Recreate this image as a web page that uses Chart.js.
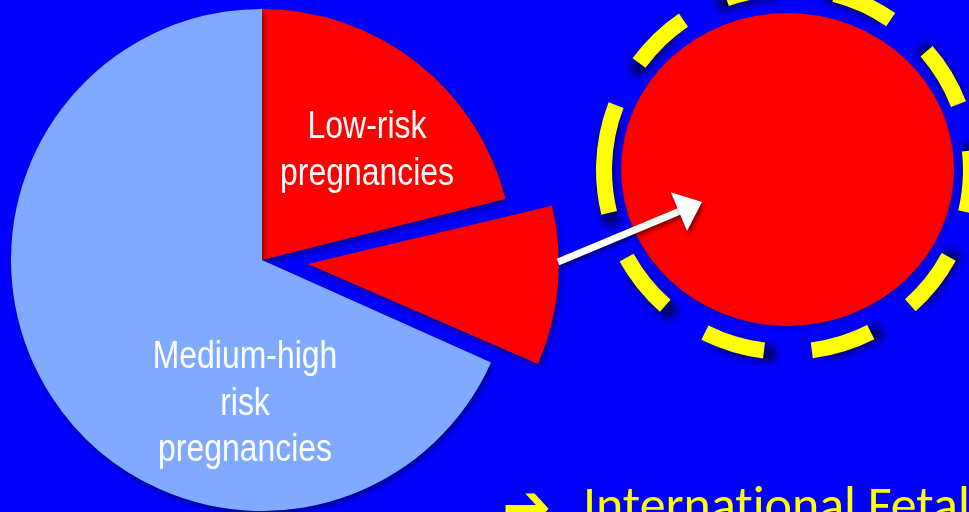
<!DOCTYPE html>
<html>
<head>
<meta charset="utf-8">
<script src="https://cdn.jsdelivr.net/npm/chart.js@4.4.1/dist/chart.umd.min.js"></script>
<style>
  html, body { margin: 0; padding: 0; background: #0000ff; overflow: hidden; }
  #stage { position: relative; width: 969px; height: 512px; overflow: hidden; }
  #zoomBox { position: absolute; left: 621px; top: 3px; width: 333px; height: 333px;
             transform: scaleX(1.064); transform-origin: 50% 50%; z-index: 1; }
  #mainBox { position: absolute; left: 0; top: 0; width: 969px; height: 512px; z-index: 2; }
</style>
</head>
<body>
<div id="stage">
  <div id="zoomBox"><canvas id="zoomChart"></canvas></div>
  <div id="mainBox"><canvas id="pieChart"></canvas></div>
</div>
<script>
// données du graphique
const categories = ['Low-risk pregnancies', 'Low-risk pregnancies (highlighted)', 'Medium-high risk pregnancies'];
const shares = [21.1, 10.6, 68.3];
const labelLines = [['Low-risk', 'pregnancies'], [], ['Medium-high', 'risk', 'pregnancies']];
const footerText = 'Internat\u200Cional Fetal';

// ombre légère sous les secteurs
const sliceShadow = {
  id: 'sliceShadow',
  beforeDatasetsDraw(chart, args, opts) {
    const ctx = chart.ctx;
    ctx.save();
    ctx.shadowColor = opts.color || 'rgba(0,0,0,0.45)';
    ctx.shadowBlur = opts.blur || 6;
    ctx.shadowOffsetX = opts.x || 2;
    ctx.shadowOffsetY = opts.y || 3;
  },
  afterDatasetsDraw(chart) {
    chart.ctx.restore();
  }
};

// Chart.js agrandit le rayon d'un secteur décalé : on le remet au rayon du camembert
const keepRadius = {
  id: 'keepRadius',
  afterDatasetsUpdate(chart) {
    chart.getDatasetMeta(0).data.forEach(arc => {
      const off = (arc.options.offset || 0) / 4;
      if (!off) return;
      const fix = 1 - Math.sin(Math.min(Math.PI, arc.circumference));
      arc.outerRadius -= off * fix;
    });
  }
};

function drawNarrowLines(ctx, lines, cx, firstBaseline, step) {
  ctx.save();
  ctx.font = '38px "Liberation Sans", Arial, sans-serif';
  ctx.fillStyle = '#ffffff';
  ctx.textAlign = 'center';
  ctx.textBaseline = 'alphabetic';
  lines.forEach((t, i) => {
    ctx.save();
    ctx.translate(cx, firstBaseline + i * step);
    ctx.scale(0.84, 1);
    ctx.fillText(t, 0, 0);
    ctx.restore();
  });
  ctx.restore();
}

// anneau pointillé, flèche blanche et texte du bas
const decorations = {
  id: 'decorations',
  afterDatasetsDraw(chart) {
    const ctx = chart.ctx;

    drawNarrowLines(ctx, labelLines[0], 367, 138, 47);
    drawNarrowLines(ctx, labelLines[2], 245, 368, 46.7);

    // anneau jaune
    const start = 181.4 * Math.PI / 180;
    ctx.save();
    ctx.lineWidth = 16;
    ctx.lineCap = 'butt';
    ctx.setLineDash([62, 48]);
    ctx.filter = 'blur(4px)';
    ctx.strokeStyle = 'rgba(0,0,50,0.75)';
    ctx.lineDashOffset = 10;
    ctx.beginPath();
    ctx.ellipse(789, 173, 183.5, 182, 0, start, start + Math.PI * 2);
    ctx.stroke();
    ctx.filter = 'none';
    ctx.strokeStyle = '#ffff00';
    ctx.lineDashOffset = 0;
    ctx.beginPath();
    ctx.ellipse(787.5, 170, 183.5, 182, 0, start, start + Math.PI * 2);
    ctx.stroke();
    ctx.restore();

    // flèche blanche
    const from = { x: 558, y: 262 }, tip = { x: 702, y: 202 };
    const len = Math.hypot(tip.x - from.x, tip.y - from.y);
    const ux = (tip.x - from.x) / len, uy = (tip.y - from.y) / len;
    const headLen = 25, headHalf = 21;
    const bx = tip.x - ux * headLen, by = tip.y - uy * headLen;
    ctx.save();
    ctx.shadowColor = 'rgba(0,0,0,0.5)';
    ctx.shadowBlur = 4;
    ctx.shadowOffsetX = 2;
    ctx.shadowOffsetY = 3;
    ctx.fillStyle = '#ffffff';
    ctx.strokeStyle = '#ffffff';
    ctx.lineWidth = 7;
    ctx.beginPath();
    ctx.moveTo(from.x, from.y);
    ctx.lineTo(bx + ux * 2, by + uy * 2);
    ctx.stroke();
    ctx.beginPath();
    ctx.moveTo(tip.x, tip.y);
    ctx.lineTo(bx - uy * headHalf, by + ux * headHalf);
    ctx.lineTo(bx + uy * headHalf, by - ux * headHalf);
    ctx.closePath();
    ctx.fill();
    ctx.restore();

    // texte du bas
    ctx.save();
    ctx.fillStyle = '#ffff00';
    let size = 48;
    ctx.font = size + 'px Carlito, Lato, sans-serif';
    size = size * 387 / ctx.measureText(footerText).width;
    ctx.font = size + 'px Carlito, Lato, sans-serif';
    const capTop = ctx.measureText('I').actualBoundingBoxAscent;
    ctx.textAlign = 'left';
    ctx.fillText(footerText, 583, 489 + capTop);

    // puce flèche
    ctx.font = 'bold 44px "DejaVu Sans"';
    const m = ctx.measureText('\u2794');
    const w = m.actualBoundingBoxRight + m.actualBoundingBoxLeft;
    const sc = 44 / w;
    const mid = (m.actualBoundingBoxAscent - m.actualBoundingBoxDescent) / 2;
    ctx.translate(549, 508);
    ctx.scale(sc, sc * 1.1);
    ctx.fillText('\u2794', -m.actualBoundingBoxRight, mid);
    ctx.restore();
  }
};

new Chart(document.getElementById('pieChart').getContext('2d'), {
  type: 'pie',
  data: {
    labels: categories,
    datasets: [{
      data: shares,
      backgroundColor: ['#ff0000', '#ff0000', '#80aaff'],
      borderWidth: 0,
      offset: [0, 184, 0],
      radius: 251
    }]
  },
  options: {
    responsive: true,
    maintainAspectRatio: false,
    animation: false,
    events: [],
    layout: { padding: { left: 0, top: 8, right: 445, bottom: 0 } },
    plugins: {
      legend: { display: false },
      tooltip: { enabled: false },
      sliceShadow: { color: 'rgba(0,0,0,0.45)', blur: 6, x: 2, y: 3 }
    }
  },
  plugins: [keepRadius, sliceShadow, decorations]
});

// le secteur détaché, agrandi
new Chart(document.getElementById('zoomChart').getContext('2d'), {
  type: 'pie',
  data: {
    labels: [categories[1]],
    datasets: [{
      data: [shares[1]],
      backgroundColor: ['#ff0000'],
      borderWidth: 0
    }]
  },
  options: {
    responsive: true,
    maintainAspectRatio: false,
    animation: false,
    events: [],
    layout: { padding: 10 },
    plugins: {
      legend: { display: false },
      tooltip: { enabled: false },
      sliceShadow: { color: 'rgba(0,0,0,0.35)', blur: 5, x: 1, y: 2 }
    }
  },
  plugins: [sliceShadow]
});
</script>
</body>
</html>
